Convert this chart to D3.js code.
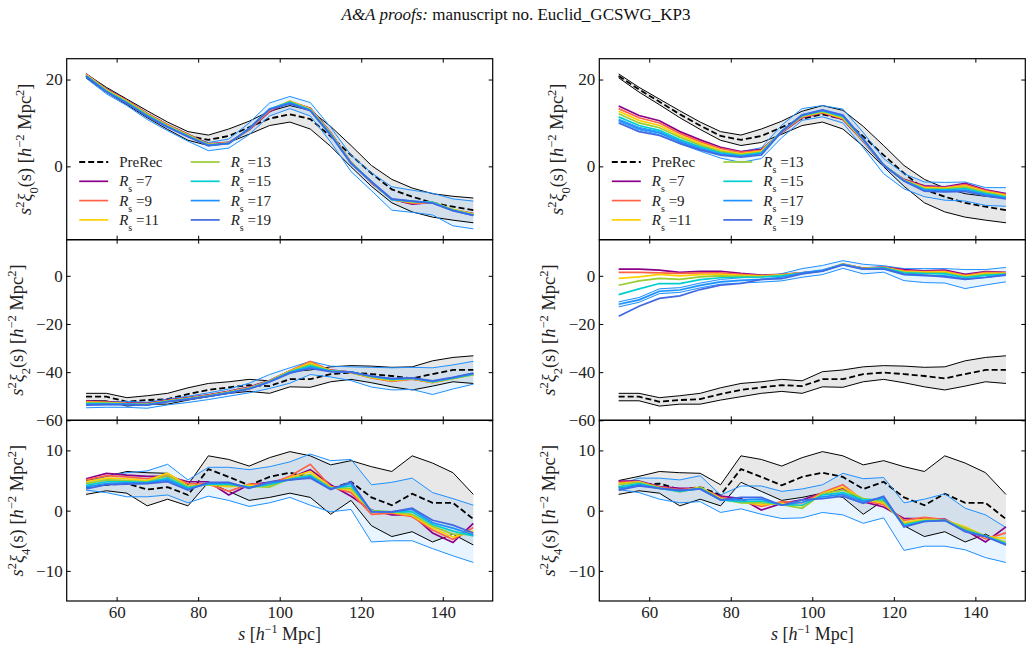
<!DOCTYPE html>
<html><head><meta charset="utf-8">
<script src="https://cdn.jsdelivr.net/npm/d3@7"></script>
<style>body{margin:0;background:#fff;} text{font-family:"Liberation Serif","DejaVu Serif",serif;fill:#222;}</style>
</head><body>
<script>
// ---------- DATA ----------
const s = [52.5,57.5,62.5,67.5,72.5,77.5,82.5,87.5,92.5,97.5,102.5,107.5,112.5,117.5,122.5,127.5,132.5,137.5,142.5,147.5];
const xTicks = [60,80,100,120,140];
const yTicksXi0 = [0,20];
const yTicksXi2 = [-60,-40,-20,0];
const yTicksXi4 = [-10,0,10];
const rsValues = [7,9,11,13,15,17,19];
const rsColors = ["#8b008b","#ff6347","#ffd000","#9acd32","#00ced1","#1e90ff","#4169e1"];

// PreRec (same in both columns)
const preXi0   = [20.8,17.7,14.9,12.0,9.4,7.0,6.1,7.0,9.0,11.0,12.0,10.9,6.9,2.6,-1.6,-5.3,-7.0,-8.4,-9.3,-10.1];
const preXi0Up = [21.3,18.2,15.5,12.8,10.2,8.0,7.2,8.6,10.4,12.7,14.0,12.9,9.2,4.8,0.2,-3.0,-5.0,-6.3,-6.9,-7.3];
const preXi0Lo = [20.4,17.1,14.2,11.2,8.5,6.0,4.8,5.5,7.4,9.4,10.2,8.6,4.6,-0.1,-4.6,-8.4,-10.5,-11.7,-12.4,-13.0];
const preXi2   = [-50.2,-50.2,-52.3,-51.6,-51.2,-49.1,-47.4,-46.3,-45.4,-45.8,-42.9,-42.9,-40.8,-40.2,-40.8,-41.6,-42.6,-40.8,-39.1,-39.1];
const preXi2Up = [-48.8,-48.8,-50.6,-49.8,-48.8,-46.5,-44.7,-44.0,-43.0,-43.6,-39.8,-39.1,-37.8,-37.3,-37.5,-38.0,-37.8,-35.3,-33.9,-33.2];
const preXi2Lo = [-51.9,-51.9,-54.1,-53.3,-53.3,-51.6,-50.2,-48.8,-48.0,-48.8,-46.1,-46.3,-44.0,-43.0,-44.4,-46.1,-47.4,-45.8,-44.0,-44.7];
const preXi4   = [3.9,4.3,4.5,3.5,3.9,2.6,6.9,5.6,4.2,5.6,6.3,5.6,3.6,4.8,2.2,0.9,2.8,1.3,1.3,-1.4];
const preXi4Up = [5.0,5.7,6.5,6.3,6.2,4.3,9.1,8.5,7.4,8.8,9.8,9.1,7.6,8.3,7.3,6.5,9.1,7.9,6.3,2.7];
const preXi4Lo = [2.7,3.3,2.9,0.8,1.9,0.8,4.7,3.2,1.7,2.2,2.9,2.2,-0.6,1.7,-2.5,-4.3,-3.5,-5.2,-3.9,-5.7];

// Left column, xi0 (one row per R_s = 7..19)
const leftXi0 = [
 [21.3,17.8,15.2,12.2,9.6,7.4,5.2,5.5,8.4,12.6,14.9,13.4,7.8,0.9,-3.8,-7.6,-8.7,-8.3,-10.0,-10.9],
 [21.2,17.7,15.1,12.1,9.5,7.3,5.1,5.4,8.5,12.8,15.0,13.3,7.7,0.9,-3.7,-7.6,-8.5,-8.4,-10.0,-11.0],
 [21.1,17.6,15.0,12.0,9.4,7.2,5.0,5.4,8.6,13.0,15.0,13.2,7.6,0.9,-3.6,-7.7,-8.3,-8.3,-9.9,-11.0],
 [21.0,17.5,14.9,11.9,9.3,7.1,5.0,5.3,8.6,13.1,14.9,13.1,7.5,0.8,-3.6,-7.7,-8.2,-8.3,-10.0,-11.1],
 [20.9,17.3,14.7,11.7,9.2,7.0,4.9,5.3,8.7,13.2,14.8,13.0,7.4,0.8,-3.5,-7.7,-8.1,-8.3,-10.1,-11.2],
 [20.8,17.2,14.6,11.6,9.1,6.9,4.8,5.3,8.7,13.2,14.6,12.9,7.3,0.7,-3.5,-7.6,-8.0,-8.4,-10.2,-11.3],
 [20.7,17.1,14.5,11.5,9.0,6.8,4.8,5.3,8.7,13.1,14.4,12.8,7.2,0.7,-3.5,-7.5,-8.0,-8.5,-10.2,-11.3]];
const leftXi0BandUp = [21.0,17.3,14.6,11.5,9.0,7.0,5.5,6.3,10.0,14.6,16.1,14.7,9.0,2.6,-1.5,-4.7,-5.5,-6.2,-7.5,-8.0];
const leftXi0BandLo = [20.3,16.7,14.0,10.8,8.2,5.8,3.6,4.2,7.3,11.6,13.3,11.6,5.6,-1.2,-5.6,-10.1,-10.6,-11.2,-13.7,-14.4];

// Right column, xi0
const rightXi0 = [
 [13.9,11.7,10.5,8.0,6.1,4.4,3.4,3.9,7.8,11.2,12.3,10.8,5.8,0.2,-3.0,-4.5,-4.7,-3.9,-5.4,-6.3],
 [13.3,11.2,10.0,7.6,5.7,4.1,3.2,3.7,7.9,11.3,12.4,11.0,5.9,0.2,-3.1,-4.7,-4.9,-4.2,-5.6,-6.5],
 [12.7,10.6,9.4,7.1,5.3,3.7,2.9,3.5,8.0,11.5,12.5,11.1,6.0,0.3,-3.2,-4.9,-5.0,-4.5,-5.8,-6.7],
 [12.1,10.0,8.9,6.7,4.9,3.4,2.7,3.3,8.0,11.6,12.6,11.3,6.1,0.3,-3.2,-5.1,-5.2,-4.8,-6.0,-6.9],
 [11.4,9.4,8.3,6.2,4.5,3.1,2.5,3.1,8.1,11.7,12.8,11.5,6.2,0.3,-3.3,-5.3,-5.4,-5.1,-6.3,-7.1],
 [10.6,8.7,7.7,5.7,4.1,2.8,2.3,2.9,8.1,11.9,12.9,11.7,6.2,0.3,-3.3,-5.5,-5.6,-5.5,-6.5,-7.3],
 [10.0,8.0,7.1,5.3,3.8,2.6,2.1,2.6,8.0,11.8,13.0,11.8,6.3,0.3,-3.4,-5.7,-5.9,-5.8,-6.8,-7.5]];
const rightXi0BandUp = [10.9,9.0,8.0,6.0,4.4,3.3,3.4,4.3,9.5,13.3,14.0,13.2,7.8,1.8,-1.7,-3.6,-3.7,-3.6,-4.9,-4.9];
const rightXi0BandLo = [10.3,8.4,7.3,5.2,3.5,1.9,0.9,1.8,6.6,10.6,11.4,10.0,4.3,-1.7,-5.2,-7.0,-7.8,-8.0,-9.0,-9.2];

// Left column, xi2
const leftXi2 = [
 [-51.9,-52.3,-52.8,-53.0,-51.6,-50.6,-49.4,-48.0,-46.2,-43.5,-39.5,-36.0,-39.2,-40.0,-42.2,-43.5,-42.8,-44.2,-42.5,-40.8],
 [-52.2,-52.5,-53.0,-53.2,-51.8,-50.8,-49.6,-48.2,-46.4,-43.6,-39.4,-35.6,-39.3,-40.2,-42.4,-43.8,-42.9,-44.4,-42.6,-40.9],
 [-52.5,-52.7,-53.1,-53.3,-51.9,-50.9,-49.7,-48.3,-46.6,-43.7,-39.6,-36.2,-39.4,-40.2,-42.2,-43.5,-42.7,-44.3,-42.7,-41.1],
 [-52.8,-52.9,-53.2,-53.4,-52.0,-51.0,-49.8,-48.4,-46.7,-43.8,-39.8,-36.8,-39.5,-40.1,-42.0,-43.2,-42.6,-44.1,-42.6,-41.0],
 [-53.1,-53.1,-53.3,-53.5,-52.1,-51.1,-49.9,-48.5,-46.8,-43.9,-40.0,-37.4,-39.6,-40.0,-41.8,-43.0,-42.5,-43.9,-42.5,-40.8],
 [-53.4,-53.3,-53.4,-53.6,-52.2,-51.2,-50.0,-48.6,-46.9,-44.0,-40.2,-38.0,-39.7,-40.0,-41.7,-42.8,-42.5,-43.8,-42.3,-40.6],
 [-53.7,-53.5,-53.5,-53.7,-52.3,-51.3,-50.1,-48.7,-47.0,-44.1,-40.4,-38.5,-39.8,-40.0,-41.6,-42.7,-42.4,-43.6,-42.2,-40.4]];
const leftXi2BandUp = [-52.2,-52.3,-52.2,-52.5,-51.2,-50.0,-48.6,-47.0,-44.6,-41.0,-38.2,-35.5,-37.5,-37.8,-38.0,-38.2,-38.0,-38.2,-37.0,-35.5];
const leftXi2BandLo = [-54.8,-54.6,-54.6,-55.0,-53.6,-52.6,-51.4,-50.0,-48.6,-46.8,-44.6,-41.0,-42.0,-43.5,-46.2,-47.4,-47.2,-49.3,-47.0,-45.0];

// Right column, xi2
const rightXi2 = [
 [2.8,2.8,2.4,1.4,1.9,1.9,1.0,0.3,0.6,1.2,2.1,4.8,3.2,3.6,2.6,2.1,2.4,0.6,1.7,1.4],
 [1.4,1.4,1.2,1.0,1.2,1.2,0.6,0.1,0.5,1.2,2.1,5.0,3.1,3.5,2.2,1.8,2.0,0.2,1.4,1.2],
 [-1.1,-0.4,0.6,0.0,0.5,0.6,0.2,-0.1,0.4,1.1,2.1,4.9,3.0,3.4,1.8,1.5,1.6,-0.1,1.0,1.0],
 [-3.9,-2.1,-1.1,-1.5,-0.4,0.0,-0.2,-0.3,0.2,1.1,2.0,4.8,2.9,3.4,1.5,1.2,1.2,-0.4,0.6,0.8],
 [-7.8,-5.4,-3.2,-3.2,-1.6,-0.8,-0.6,-0.5,0.0,1.0,2.0,4.7,2.9,3.3,1.2,0.9,0.8,-0.7,0.2,0.6],
 [-11.8,-10.0,-6.4,-5.9,-4.0,-2.5,-1.9,-1.5,-0.6,1.2,2.4,4.7,2.8,2.9,0.5,0.1,0.0,-1.3,-0.6,0.5],
 [-16.8,-12.6,-9.4,-8.3,-5.7,-3.9,-3.2,-1.5,-1.2,0.8,1.9,4.5,2.8,3.0,0.7,0.3,-0.4,-1.5,-0.7,0.3]];
const rightXi2BandUp = [-10.8,-9.0,-5.4,-4.9,-3.0,-1.5,-0.8,-0.3,0.9,3.0,4.3,6.3,4.8,4.2,3.0,3.0,3.0,2.6,2.6,3.5];
const rightXi2BandLo = [-12.9,-11.0,-7.4,-6.9,-5.0,-3.5,-3.0,-2.6,-2.1,-0.6,0.5,3.1,0.8,1.5,-2.0,-2.8,-3.0,-5.3,-3.8,-2.5];

// Left column, xi4
const leftXi4 = [
 [5.3,6.2,5.9,5.7,5.7,4.8,4.8,2.6,4.3,4.7,5.4,6.8,4.3,2.4,0.1,-0.7,-0.7,-3.7,-5.3,-2.1],
 [5.1,5.8,5.6,5.3,5.9,4.5,4.4,3.2,4.4,4.4,5.7,7.7,4.0,3.0,-0.6,-0.4,-1.0,-3.2,-4.8,-2.8],
 [4.8,5.4,5.3,5.0,6.2,4.1,4.3,4.0,4.2,4.1,5.5,6.5,3.9,3.4,-0.1,-0.3,-0.8,-2.9,-4.4,-3.4],
 [4.5,5.1,5.0,4.8,5.8,4.0,4.3,4.2,4.0,3.9,5.3,6.0,3.8,3.7,0.0,-0.2,-0.6,-2.6,-3.9,-4.0],
 [4.2,4.8,4.8,4.7,5.4,3.8,4.4,4.4,3.9,4.3,5.2,5.8,3.7,4.1,-0.1,-0.2,-0.2,-2.3,-3.4,-4.2],
 [3.9,4.5,4.6,4.6,5.1,3.6,4.5,4.6,3.8,4.6,5.1,5.6,3.6,4.5,-0.2,-0.2,0.2,-2.0,-2.9,-4.0],
 [3.6,4.3,4.4,4.5,4.8,3.4,4.7,4.7,3.7,4.8,5.1,5.4,3.5,4.8,-0.2,-0.2,0.4,-1.6,-2.4,-3.7]];
const leftXi4BandUp = [4.7,5.8,6.3,6.6,7.7,5.1,7.2,7.2,6.8,7.3,8.1,9.4,8.3,8.5,4.3,4.7,5.4,3.0,2.0,0.9];
const leftXi4BandLo = [3.4,3.0,2.3,2.3,2.6,1.3,2.4,1.7,0.7,1.3,2.2,0.9,-0.2,0.2,-5.2,-5.0,-5.0,-6.3,-7.5,-8.6];

// Right column, xi4
const rightXi4 = [
 [4.9,4.9,4.0,3.7,3.7,2.4,2.0,0.1,1.2,1.8,2.9,3.7,1.5,0.6,-1.3,-1.3,-1.4,-3.2,-5.2,-2.7],
 [4.7,4.8,3.9,3.5,3.8,2.2,1.6,0.7,1.5,1.3,3.0,4.3,1.7,1.0,-1.6,-1.1,-1.5,-3.0,-4.7,-3.7],
 [4.5,4.8,3.8,3.2,3.9,2.0,1.4,1.0,1.2,0.8,2.9,3.9,1.9,1.3,-2.0,-1.4,-1.6,-2.7,-4.3,-4.6],
 [4.3,4.7,3.8,3.1,3.8,1.9,1.3,1.3,1.0,0.4,2.8,3.4,2.0,1.5,-2.2,-1.6,-1.6,-2.9,-4.2,-5.2],
 [3.9,4.5,3.7,3.2,3.7,1.8,1.5,1.6,1.0,0.9,2.6,3.0,1.8,1.9,-2.4,-1.7,-1.6,-3.3,-4.2,-5.5],
 [3.6,4.3,3.7,3.3,3.6,1.8,1.8,1.9,0.9,1.4,2.3,2.7,1.5,2.2,-2.6,-1.8,-1.6,-3.4,-4.3,-5.6],
 [3.4,4.1,3.7,3.4,3.6,1.8,2.2,2.2,0.9,1.8,2.0,2.4,1.2,2.4,-2.7,-1.8,-1.6,-3.5,-4.3,-5.7]];
const rightXi4BandUp = [4.3,5.4,5.4,5.1,5.8,2.6,4.1,4.1,3.2,3.6,4.3,6.2,5.3,5.5,1.3,1.9,2.8,0.4,-0.7,-2.8];
const rightXi4BandLo = [3.5,3.0,1.9,1.3,1.5,-0.3,0.3,-0.6,-1.3,-1.2,-0.3,-0.7,-2.1,-1.2,-6.6,-5.9,-5.9,-6.5,-7.8,-8.6];

// ---------- LAYOUT ----------
const W = 1033, H = 651;
const colX = [66.7, 599.3], panelW = 426;
const rowTop = [58.7, 239.7, 420.3], rowBot = [239.7, 420.3, 601];
const xDomain = [47.75, 152.25];
const yDomains = [[-16.9, 24.8], [-60, 15], [-15, 15]];
const yTicks = [yTicksXi0, yTicksXi2, yTicksXi4];
const multipole = ["0","2","4"];

const svg = d3.select("body").append("svg").attr("width", W).attr("height", H);

// title
const title = svg.append("text").attr("x", 516).attr("y", 20).attr("text-anchor","middle")
  .style("font-size","17px").style("fill","#111");
title.append("tspan").style("font-style","italic").text("A&A proofs:");
title.append("tspan").text(" manuscript no. Euclid_GCSWG_KP3");

const panels = [
  {col:0,row:0,lines:leftXi0,bu:leftXi0BandUp,bl:leftXi0BandLo,m:preXi0,u:preXi0Up,l:preXi0Lo},
  {col:1,row:0,lines:rightXi0,bu:rightXi0BandUp,bl:rightXi0BandLo,m:preXi0,u:preXi0Up,l:preXi0Lo},
  {col:0,row:1,lines:leftXi2,bu:leftXi2BandUp,bl:leftXi2BandLo,m:preXi2,u:preXi2Up,l:preXi2Lo},
  {col:1,row:1,lines:rightXi2,bu:rightXi2BandUp,bl:rightXi2BandLo,m:preXi2,u:preXi2Up,l:preXi2Lo},
  {col:0,row:2,lines:leftXi4,bu:leftXi4BandUp,bl:leftXi4BandLo,m:preXi4,u:preXi4Up,l:preXi4Lo},
  {col:1,row:2,lines:rightXi4,bu:rightXi4BandUp,bl:rightXi4BandLo,m:preXi4,u:preXi4Up,l:preXi4Lo}
];

panels.forEach((p, k) => {
  const x0 = colX[p.col], y0 = rowTop[p.row], y1 = rowBot[p.row];
  const x = d3.scaleLinear().domain(xDomain).range([x0, x0 + panelW]);
  const y = d3.scaleLinear().domain(yDomains[p.row]).range([y1, y0]);
  const cid = "clip" + k;
  svg.append("clipPath").attr("id", cid).append("rect")
    .attr("x", x0).attr("y", y0).attr("width", panelW).attr("height", y1 - y0);
  const g = svg.append("g").attr("clip-path", `url(#${cid})`);

  const area = (up, lo) => d3.area().x((d, i) => x(s[i])).y0((d, i) => y(lo[i])).y1((d, i) => y(up[i]))(s);
  const line = arr => d3.line().x((d, i) => x(s[i])).y(d => y(d))(arr);

  g.append("path").attr("d", area(p.u, p.l)).attr("fill", "#e8e8e8");
  g.append("path").attr("d", area(p.bu, p.bl)).attr("fill", "rgba(30,144,255,0.10)");
  g.append("path").attr("d", line(p.u)).attr("fill","none").attr("stroke","#000").attr("stroke-width",1);
  g.append("path").attr("d", line(p.l)).attr("fill","none").attr("stroke","#000").attr("stroke-width",1);
  g.append("path").attr("d", line(p.m)).attr("fill","none").attr("stroke","#000").attr("stroke-width",1.8).attr("stroke-dasharray","6,3");
  g.append("path").attr("d", line(p.bu)).attr("fill","none").attr("stroke","#1e90ff").attr("stroke-width",1);
  g.append("path").attr("d", line(p.bl)).attr("fill","none").attr("stroke","#1e90ff").attr("stroke-width",1);
  p.lines.forEach((arr, j) => {
    g.append("path").attr("d", line(arr)).attr("fill","none").attr("stroke", rsColors[j]).attr("stroke-width",1.7);
  });

  // axes (inward ticks on all sides)
  const styleAxis = sel => {
    sel.select(".domain").remove();
    sel.selectAll("line").attr("stroke","#000").attr("stroke-width",1);
    sel.selectAll("text").style("font-size","17px").style("font-family","'Liberation Serif',serif").attr("fill","#333");
  };
  const bottom = d3.axisBottom(x).tickValues(xTicks).tickSize(-4).tickPadding(5);
  if (p.row !== 2) bottom.tickFormat("");
  svg.append("g").attr("transform", `translate(0,${y1})`).call(bottom).call(styleAxis);
  svg.append("g").attr("transform", `translate(0,${y0})`).call(d3.axisTop(x).tickValues(xTicks).tickSize(-4).tickFormat("")).call(styleAxis);
  svg.append("g").attr("transform", `translate(${x0},0)`).call(d3.axisLeft(y).tickValues(yTicks[p.row]).tickSize(-4).tickPadding(4)).call(styleAxis);
  svg.append("g").attr("transform", `translate(${x0 + panelW},0)`).call(d3.axisRight(y).tickValues(yTicks[p.row]).tickSize(-4).tickFormat("")).call(styleAxis);

  svg.append("rect").attr("x", x0).attr("y", y0).attr("width", panelW).attr("height", y1 - y0)
    .attr("fill","none").attr("stroke","#000").attr("stroke-width",1.2);

  // y label
  const lx = x0 - (p.row === 0 ? 36 : 44), ly = (y0 + y1) / 2;
  const t = svg.append("text").attr("transform", `translate(${lx},${ly}) rotate(-90)`)
    .attr("text-anchor","middle").style("font-size","18.5px").attr("fill","#333");
  t.append("tspan").style("font-style","italic").text("s");
  t.append("tspan").attr("baseline-shift","super").style("font-size","12.5px").text("2");
  t.append("tspan").style("font-style","italic").text("ξ");
  t.append("tspan").attr("baseline-shift","sub").style("font-size","12.5px").text(multipole[p.row]);
  t.append("tspan").text("(s) [");
  t.append("tspan").style("font-style","italic").text("h");
  t.append("tspan").attr("baseline-shift","super").style("font-size","12.5px").text("−2");
  t.append("tspan").text(" Mpc");
  t.append("tspan").attr("baseline-shift","super").style("font-size","12.5px").text("2");
  t.append("tspan").text("]");

  // x label
  if (p.row === 2) {
    const xt = svg.append("text").attr("x", x0 + panelW / 2).attr("y", 640).attr("text-anchor","middle")
      .style("font-size","18px").attr("fill","#333");
    xt.append("tspan").style("font-style","italic").text("s");
    xt.append("tspan").text(" [");
    xt.append("tspan").style("font-style","italic").text("h");
    xt.append("tspan").attr("baseline-shift","super").style("font-size","12px").text("−1");
    xt.append("tspan").text(" Mpc]");
  }

  // legend (top row only)
  if (p.row === 0) {
    const entries = [{label:"PreRec", color:"#000", dash:"6,3", w:1.8}]
      .concat(rsValues.map((r, j) => ({rs:r, color:rsColors[j], dash:null, w:1.7})));
    entries.forEach((e, idx) => {
      const c = idx < 4 ? 0 : 1, r = idx % 4;
      const ex = x0 + 12.5 + c * 111.5, ey = 162 + r * 19.3;
      svg.append("line").attr("x1", ex).attr("x2", ex + 29).attr("y1", ey).attr("y2", ey)
        .attr("stroke", e.color).attr("stroke-width", e.w).attr("stroke-dasharray", e.dash);
      const lt = svg.append("text").attr("x", ex + 40).attr("y", ey + 5).style("font-size","15px").attr("fill","#333");
      if (e.label) lt.text(e.label);
      else {
        lt.append("tspan").style("font-style","italic").text("R");
        lt.append("tspan").attr("baseline-shift","sub").style("font-size","10px").text("s");
        lt.append("tspan").text(" =" + e.rs);
      }
    });
  }
});
</script>
</body></html>
